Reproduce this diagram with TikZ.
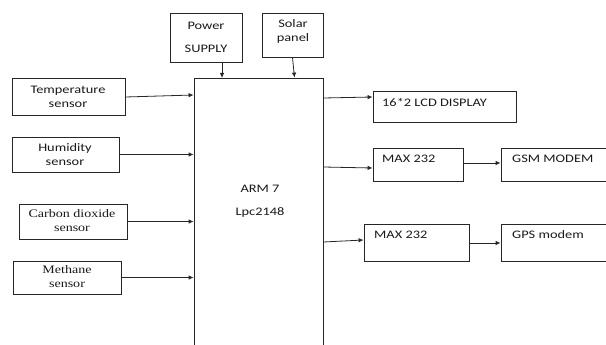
\documentclass[tikz,border=0pt]{standalone}
\usepackage{fontspec}
\newfontfamily\calibf{Carlito}[FakeStretch=1.25]
\newfontfamily\timesf{Liberation Serif}[FakeStretch=1.22]
\usetikzlibrary{arrows.meta}
\tikzset{
  box/.style={draw=black!85, line width=0.8pt, rectangle, inner sep=0pt},
  txt/.style={font={\calibf\fontsize{11.5}{14}\selectfont}, text=black!90, align=center, inner sep=0pt},
  stxt/.style={font={\timesf\fontsize{11.5}{14}\selectfont}, text=black!90, align=center, inner sep=0pt},
  ltxt/.style={txt, anchor=west},
  arr/.style={draw=black!85, line width=0.8pt, -{Latex[length=5pt,width=4.5pt]}}
}
\begin{document}
\begin{tikzpicture}[x=1pt,y=-1pt]
\useasboundingbox (0,0) rectangle (606,345);
\clip (0,0) rectangle (606,345);
% boxes
\node[box, minimum width=72pt, minimum height=49pt] (pow) at (206,37.5) {};
\node[box, minimum width=61pt, minimum height=44pt] (sol) at (292.5,35) {};
\node[box, minimum width=129pt, minimum height=290pt] (arm) at (258.5,223) {};
\node[box, minimum width=113pt, minimum height=37pt] (temp) at (68.5,96.5) {};
\node[box, minimum width=107pt, minimum height=35pt] (hum) at (65.5,154.5) {};
\node[box, minimum width=108pt, minimum height=35pt] (co2) at (73,221.5) {};
\node[box, minimum width=108pt, minimum height=33pt] (meth) at (67,277.5) {};
\node[box, minimum width=143pt, minimum height=31pt] (lcd) at (444.5,106.5) {};
\node[box, minimum width=90pt, minimum height=33pt] (max1) at (418,164.5) {};
\node[box, minimum width=106pt, minimum height=33pt] (gsm) at (554,164.5) {};
\node[box, minimum width=105pt, minimum height=37pt] (max2) at (416.5,242.5) {};
\node[box, minimum width=106pt, minimum height=37pt] (gps) at (554,242.5) {};
% texts
\node[txt] (powt) at (206,37) {Power\\[9pt]SUPPLY};
\node[txt] (solt) at (293,31.5) {Solar\\[0pt]panel};
\node[txt] (tempt) at (68,96.5) {Temperature\\[0pt]sensor};
\node[txt] (humt) at (65,154.5) {Humidity\\[0pt]sensor};
\node[stxt] (co2t) at (72,220.5) {Carbon dioxide\\[0pt]sensor};
\node[stxt] (metht) at (67,277) {Methane\\[0pt]sensor};
\node[txt] (armt) at (260,201) {ARM 7\\[9pt]Lpc2148};
\node[ltxt] (lcdt) at (382,102) {16*2 LCD DISPLAY};
\node[ltxt] (max1t) at (382,159) {MAX 232};
\node[ltxt] (gsmt) at (512,159) {GSM MODEM};
\node[ltxt] (max2t) at (374,235) {MAX 232};
\node[ltxt] (gpst) at (512,235) {GPS modem};
% connectors
\draw[arr] (pow.south -| 222,0) -- (222,78);
\draw[arr] (sol.south) -- ([xshift=2pt]sol.south |- arm.north);
\draw[arr] ([yshift=-0.5pt]temp.east) -- ([yshift=1.5pt]temp.east -| arm.west);
\draw[arr] (hum.east) -- (hum.east -| arm.west);
\draw[arr] (co2.east) -- (co2.east -| arm.west);
\draw[arr] (meth.east) -- (meth.east -| arm.west);
\draw[arr] (arm.east |- 0,98) -- (lcd.west |- 0,97);
\draw[arr] (arm.east |- 0,167) -- (max1.west |- 0,168);
\draw[arr] (arm.east |- 0,242) -- (max2.west |- 0,240);
\draw[arr] (max1.east |- 0,163) -- (gsm.west |- 0,163);
\draw[arr] (max2.east |- 0,243) -- (gps.west |- 0,243);
\end{tikzpicture}
\end{document}
